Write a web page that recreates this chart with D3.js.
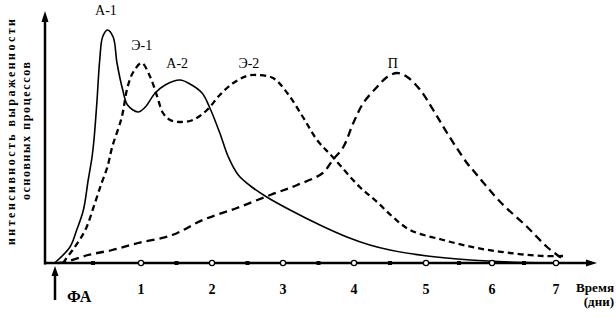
<!DOCTYPE html>
<html><head><meta charset="utf-8">
<script src="https://cdn.jsdelivr.net/npm/d3@7"></script>
<style>body{margin:0;background:#fff}svg{display:block}</style>
</head><body>
<script>
// Data: [day, intensity (0-100)]
const seriesA = [[0.10,0],[0.26,6.4],[0.33,13.2],[0.40,21.2],[0.45,33.2],[0.49,42.4],[0.51,49.2],[0.54,64],[0.57,81.2],[0.60,90.4],[0.65,93.2],[0.71,90.4],[0.75,80],[0.81,69.2],[0.86,63.2],[0.97,60.4],[1.06,62.4],[1.20,68],[1.34,71.2],[1.55,73.2],[1.69,71.6],[1.86,68],[1.97,62],[2.11,52],[2.23,42.4],[2.37,35.2],[2.58,30],[2.77,26.4],[3.10,21.2],[3.52,15.2],[3.90,10.4],[4.22,7.2],[4.50,5.2],[5.02,2.8],[5.67,1.2],[6.28,0.4],[7.06,0]];
const seriesE = [[0.19,0],[0.21,1.2],[0.31,6.4],[0.42,13.2],[0.52,24],[0.59,32],[0.65,38.4],[0.70,46.4],[0.80,58.4],[0.86,70.4],[0.92,76.4],[1.01,80],[1.13,74.4],[1.23,66.4],[1.31,60],[1.41,57.2],[1.55,56.4],[1.73,57.2],[1.93,61.2],[2.11,67.2],[2.30,72],[2.49,74.8],[2.63,75.2],[2.86,74],[3.06,68],[3.28,58.4],[3.48,49.2],[3.70,42.4],[4.08,30.4],[4.32,24.4],[4.54,18.4],[4.78,13.2],[5.26,9.2],[5.77,6],[6.28,4],[6.80,2.8],[7.11,2.8]];
const seriesP = [[0.14,0],[0.21,0.4],[0.45,3.2],[0.70,5.2],[0.97,8],[1.44,11.2],[1.87,17.2],[2.35,22],[2.82,27.2],[3.20,31.2],[3.56,36],[3.70,41.2],[3.85,46.4],[3.99,56],[4.13,64],[4.32,70.4],[4.46,74.4],[4.60,76],[4.74,74.4],[4.92,69.2],[5.11,61.2],[5.32,52],[5.62,40],[5.71,37.2],[6.13,24.4],[6.55,14.4],[6.86,6.4],[7.02,3.2],[7.09,2]];
const curveLabels = ["А-1","Э-1","А-2","Э-2","П"];
const labelAnchors = [[0.635,99.2],[1.01,85.2],[1.51,78],[2.52,78],[4.54,78]];
const tickDays = [1,2,3,4,5,6,7];
const tickLabels = ["1","2","3","4","5","6","7"];
const halfDays = [0.5,1.5,2.5,3.5,4.5,5.5,6.5];
const yTitle = ["интенсивность выраженности","основных процессов"];
const xTitle = ["Время","(дни)"];
const startLabel = "ФА";

const FONT = "'Liberation Serif','DejaVu Serif','Times New Roman',serif";
const W=616,H=318;
const svg=d3.select("body").append("svg").attr("width",W).attr("height",H);
svg.append("rect").attr("width",W).attr("height",H).attr("fill","#fff");

const x=d3.scaleLinear().domain([0,1,2,3,4,5,6,7]).range([45,141,212,283,354,426,492,556]);
const y=d3.scaleLinear().domain([0,100]).range([263,13]);

const line=d3.line().x(d=>x(d[0])).y(d=>y(d[1])).curve(d3.curveCatmullRom.alpha(0.5));

svg.append("path").attr("d",line(seriesA)).attr("fill","none").attr("stroke","#000").attr("stroke-width",1.6);
svg.append("path").attr("d",line(seriesE)).attr("fill","none").attr("stroke","#000").attr("stroke-width",2.3).attr("stroke-dasharray","6,4");
svg.append("path").attr("d",line(seriesP)).attr("fill","none").attr("stroke","#000").attr("stroke-width",2.3).attr("stroke-dasharray","8,5");

// axes
const x0=x(0), yb=y(0);
svg.append("line").attr("x1",x0).attr("y1",yb+1.5).attr("x2",x0).attr("y2",20).attr("stroke","#000").attr("stroke-width",2.5);
svg.append("path").attr("d",`M${x0},11 L${x0-3.5},22 L${x0+3.5},22 Z`).attr("fill","#000");
svg.append("line").attr("x1",x0-1).attr("y1",yb).attr("x2",588).attr("y2",yb).attr("stroke","#000").attr("stroke-width",2.5);
svg.append("path").attr("d",`M597,${yb} L586,${yb-3.5} L586,${yb+3.5} Z`).attr("fill","#000");

svg.selectAll(".tc").data(tickDays).join("circle").attr("cx",d=>x(d)).attr("cy",yb).attr("r",2.6).attr("fill","#fff").attr("stroke","#000").attr("stroke-width",1.2);
svg.selectAll(".hd").data(halfDays).join("rect").attr("x",d=>x(d)-2).attr("y",yb-2).attr("width",4).attr("height",4).attr("fill","#000");

const T = sel => sel.attr("font-family",FONT).attr("fill","#000");

svg.selectAll(".tl").data(tickDays).join("text").call(T).attr("x",d=>x(d)).attr("y",294).attr("text-anchor","middle").attr("font-size",14).attr("font-weight","bold").text((d,i)=>tickLabels[i]);

svg.selectAll(".cl").data(curveLabels).join("text").call(T).attr("x",(d,i)=>x(labelAnchors[i][0])).attr("y",(d,i)=>y(labelAnchors[i][1])).attr("text-anchor","middle").attr("font-size",14).text(d=>d);

// FA arrow
svg.append("line").attr("x1",55).attr("y1",300).attr("x2",55).attr("y2",274).attr("stroke","#000").attr("stroke-width",2.5);
svg.append("path").attr("d","M55,266 L51.5,276 L58.5,276 Z").attr("fill","#000");
svg.append("text").call(T).attr("x",67).attr("y",302).attr("font-size",16).attr("font-weight","bold").text(startLabel);

svg.append("text").call(T).attr("x",576).attr("y",292).attr("font-size",13).attr("font-weight","bold").attr("textLength",38).attr("lengthAdjust","spacingAndGlyphs").text(xTitle[0]);
svg.append("text").call(T).attr("x",614).attr("y",306).attr("text-anchor","end").attr("font-size",13).attr("font-weight","bold").text(xTitle[1]);

svg.append("text").call(T).attr("transform","translate(15,132) rotate(-90)").attr("text-anchor","middle").attr("font-size",12).attr("font-weight","bold").attr("textLength",226).attr("lengthAdjust","spacing").text(yTitle[0]);
svg.append("text").call(T).attr("transform","translate(30,131) rotate(-90)").attr("text-anchor","middle").attr("font-size",12).attr("font-weight","bold").attr("textLength",138).attr("lengthAdjust","spacing").text(yTitle[1]);
</script>
</body></html>
